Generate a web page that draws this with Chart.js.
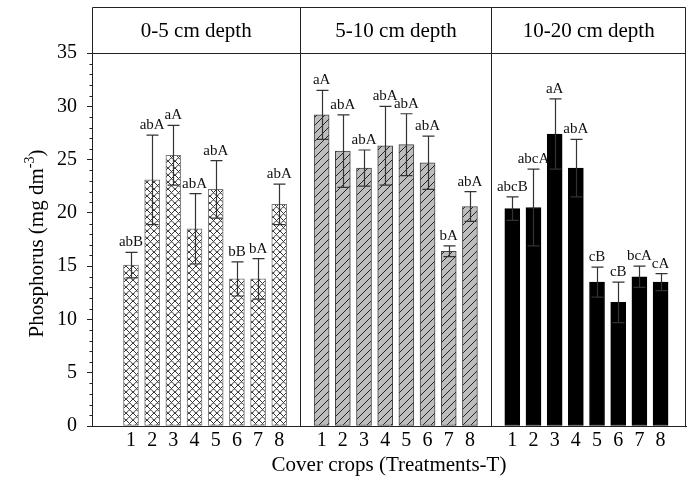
<!DOCTYPE html>
<html>
<head>
<meta charset="utf-8">
<script src="https://cdn.jsdelivr.net/npm/chart.js@4.4.1/dist/chart.umd.min.js"></script>
<style>
  html, body { margin: 0; padding: 0; background: #fff; }
  #wrap { width: 688px; height: 484px; }
</style>
</head>
<body>
<div id="wrap"><canvas id="pChart" width="688" height="484"></canvas></div>
<script>
// treatments and depth panels
const treatments = ['1', '2', '3', '4', '5', '6', '7', '8'];
const depths = ['0-5 cm depth', '5-10 cm depth', '10-20 cm depth'];

// phosphorus means, error and letters per depth
const p0_5 = [15.1, 23.1, 25.4, 18.5, 22.2, 13.8, 13.8, 20.8];
const err0_5 = [1.2, 4.2, 2.8, 3.3, 2.7, 1.6, 1.9, 1.9];
const let0_5 = ['abB', 'abA', 'aA', 'abA', 'abA', 'bB', 'bA', 'abA'];

const p5_10 = [29.2, 25.8, 24.2, 26.3, 26.4, 24.7, 16.4, 20.6];
const err5_10 = [2.3, 3.4, 1.7, 3.7, 2.9, 2.5, 0.5, 1.4];
const let5_10 = ['aA', 'abA', 'abA', 'abA', 'abA', 'abA', 'bA', 'abA'];

const p10_20 = [20.4, 20.5, 27.4, 24.2, 13.5, 11.6, 14.0, 13.5];
const err10_20 = [1.1, 3.6, 3.3, 2.7, 1.4, 1.9, 1.0, 0.8];
const let10_20 = ['abcB', 'abcA', 'aA', 'abA', 'cB', 'cB', 'bcA', 'cA'];

const yTicks = [0, 5, 10, 15, 20, 25, 30, 35];

const serif = "'Liberation Serif', 'Times New Roman', serif";

// each panel takes 8 slots plus one empty slot between panels
function slot(panel, i) { return panel * 9 + i; }

// fill patterns
function crossPattern() {
    const c = document.createElement('canvas');
    c.width = 7; c.height = 7;
    const g = c.getContext('2d');
    g.fillStyle = '#fff';
    g.fillRect(0, 0, 7, 7);
    g.strokeStyle = '#333';
    g.lineWidth = 1;
    g.beginPath();
    g.moveTo(0, 0); g.lineTo(7, 7);
    g.moveTo(7, 0); g.lineTo(0, 7);
    g.stroke();
    g.strokeStyle = '#777';
    g.beginPath();
    g.arc(3.5, 7, 2.6, Math.PI, 2 * Math.PI);
    g.stroke();
    return g.createPattern(c, 'repeat');
}

function hatchPattern() {
    const c = document.createElement('canvas');
    c.width = 8; c.height = 8;
    const g = c.getContext('2d');
    g.fillStyle = '#bdbdbd';
    g.fillRect(0, 0, 8, 8);
    g.strokeStyle = '#222';
    g.lineWidth = 1;
    g.beginPath();
    g.moveTo(0, 8); g.lineTo(8, 0);
    g.moveTo(-1, 1); g.lineTo(1, -1);
    g.moveTo(7, 9); g.lineTo(9, 7);
    g.stroke();
    return g.createPattern(c, 'repeat');
}

function makeData(panel, values) {
    return values.map((v, i) => ({ x: slot(panel, i), y: v }));
}

const errors = [err0_5, err5_10, err10_20];
const letters = [let0_5, let5_10, let10_20];
const tickSlots = [];
depths.forEach((d, p) => treatments.forEach((t, i) => tickSlots.push(slot(p, i))));

// error bars and letters above them
const errorBars = {
    id: 'errorBars',
    afterDatasetsDraw(chart) {
        const ctx = chart.ctx;
        const y = chart.scales.y;
        ctx.save();
        chart.data.datasets.forEach((ds, d) => {
            const meta = chart.getDatasetMeta(d);
            meta.data.forEach((bar, i) => {
                const v = ds.data[i].y;
                const e = errors[d][i];
                const top = y.getPixelForValue(v + e);
                const bot = y.getPixelForValue(v - e);
                const x = Math.round(bar.x) + 0.5;
                ctx.strokeStyle = '#333';
                ctx.lineWidth = 1.2;
                ctx.beginPath();
                ctx.moveTo(x, top); ctx.lineTo(x, bot);
                ctx.moveTo(x - 6, top); ctx.lineTo(x + 6, top);
                ctx.moveTo(x - 6, bot); ctx.lineTo(x + 6, bot);
                ctx.stroke();
                ctx.fillStyle = '#111';
                ctx.font = '15px ' + serif;
                ctx.textAlign = 'center';
                ctx.textBaseline = 'alphabetic';
                ctx.fillText(letters[d][i], bar.x, top - 6);
            });
        });
        ctx.restore();
    }
};

// frame, header row, panel dividers, minor ticks and axis titles
const frame = {
    id: 'frame',
    afterDraw(chart) {
        const ctx = chart.ctx;
        const a = chart.chartArea;
        const x = chart.scales.x;
        const y = chart.scales.y;
        const headTop = a.top - 46;
        const L = Math.round(a.left) + 0.5;
        const R = Math.round(a.right) - 0.5;
        const T = Math.round(headTop) + 0.5;
        const H = Math.round(a.top) + 0.5;
        const B = Math.round(a.bottom) + 0.5;
        ctx.save();
        ctx.strokeStyle = '#222';
        ctx.lineWidth = 1;
        ctx.beginPath();
        ctx.moveTo(L, T); ctx.lineTo(R, T); ctx.lineTo(R, B);
        ctx.moveTo(L, T); ctx.lineTo(L, B);
        ctx.moveTo(L, H); ctx.lineTo(R, H);
        const divs = [x.getPixelForValue(8), x.getPixelForValue(17)].map(v => Math.round(v) + 0.5);
        divs.forEach(dx => { ctx.moveTo(dx, T); ctx.lineTo(dx, B); });
        // minor y ticks
        for (let v = 0; v <= 35; v++) {
            if (v % 5 === 0) continue;
            const py = Math.round(y.getPixelForValue(v)) + 0.5;
            ctx.moveTo(L - 3, py); ctx.lineTo(L, py);
        }
        ctx.stroke();

        // depth headers
        const edges = [a.left, divs[0], divs[1], a.right];
        ctx.fillStyle = '#000';
        ctx.font = '21px ' + serif;
        ctx.textAlign = 'center';
        ctx.textBaseline = 'middle';
        depths.forEach((d, i) => {
            ctx.fillText(d, (edges[i] + edges[i + 1]) / 2, (headTop + a.top) / 2 + 1);
        });

        // x title
        ctx.fillText('Cover crops (Treatments-T)', (a.left + a.right) / 2, 465);

        // y title with superscript
        ctx.translate(36, (a.top + a.bottom) / 2 + 4);
        ctx.rotate(-Math.PI / 2);
        const main = 'Phosphorus (mg dm';
        ctx.font = '21px ' + serif;
        const w1 = ctx.measureText(main).width;
        const w3 = ctx.measureText(')').width;
        ctx.font = '14px ' + serif;
        const w2 = ctx.measureText('-3').width;
        let sx = -(w1 + w2 + w3) / 2;
        ctx.textAlign = 'left';
        ctx.textBaseline = 'alphabetic';
        ctx.font = '21px ' + serif;
        ctx.fillText(main, sx, 7);
        ctx.font = '14px ' + serif;
        ctx.fillText('-3', sx + w1, -2);
        ctx.font = '21px ' + serif;
        ctx.fillText(')', sx + w1 + w2, 7);
        ctx.restore();
    }
};

const barBase = {
    grouped: false,
    barThickness: 15,
    borderWidth: 1,
    borderSkipped: false
};

new Chart(document.getElementById('pChart'), {
    type: 'bar',
    data: {
        datasets: [
            Object.assign({ label: depths[0], data: makeData(0, p0_5), backgroundColor: crossPattern(), borderColor: '#777' }, barBase),
            Object.assign({ label: depths[1], data: makeData(1, p5_10), backgroundColor: hatchPattern(), borderColor: '#444' }, barBase),
            Object.assign({ label: depths[2], data: makeData(2, p10_20), backgroundColor: '#000', borderColor: '#000' }, barBase)
        ]
    },
    options: {
        responsive: false,
        animation: false,
        layout: { padding: { top: 53, right: 2, left: 0, bottom: 0 } },
        plugins: {
            legend: { display: false },
            tooltip: { enabled: false }
        },
        scales: {
            x: {
                type: 'linear',
                offset: false,
                min: -1.84,
                max: 26.2,
                afterBuildTicks(scale) {
                    scale.ticks = tickSlots.map(v => ({ value: v }));
                },
                afterFit(scale) { scale.height = 58; },
                grid: { drawOnChartArea: false, drawTicks: false, offset: false },
                border: { display: true, color: '#222', width: 1 },
                ticks: {
                    autoSkip: false,
                    maxRotation: 0,
                    padding: 3,
                    color: '#000',
                    font: { family: serif, size: 20 },
                    callback: (v) => treatments[v % 9]
                }
            },
            y: {
                min: 0,
                max: 35,
                afterBuildTicks(scale) {
                    scale.ticks = yTicks.map(v => ({ value: v }));
                },
                afterFit(scale) { scale.width = 92; },
                grid: { drawOnChartArea: false, tickLength: 5, color: '#222' },
                border: { display: true, color: '#222', width: 1 },
                ticks: {
                    padding: 10,
                    color: '#000',
                    font: { family: serif, size: 20 }
                }
            }
        }
    },
    plugins: [errorBars, frame]
});
</script>
</body>
</html>
